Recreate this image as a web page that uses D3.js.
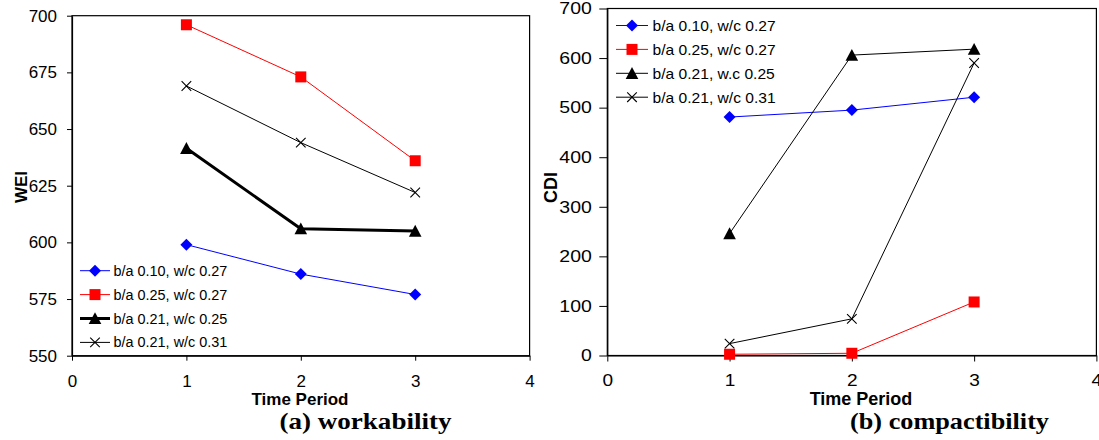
<!DOCTYPE html>
<html>
<head>
<meta charset="utf-8">
<script src="https://cdn.jsdelivr.net/npm/d3@7"></script>
<style>
  html, body { margin: 0; padding: 0; background: #fff; }
  svg { display: block; }
  text { font-family: "Liberation Sans", Arial, sans-serif; fill: #000; }
  .cap { font-family: "Liberation Serif", "Times New Roman", serif; font-weight: bold; }
</style>
</head>
<body>
<svg id="chart" width="1099" height="440"></svg>
<script>
// ---------- data ----------
const periods = [1, 2, 3];
const xTickValues = [0, 1, 2, 3, 4];
const weiTickValues = [550, 575, 600, 625, 650, 675, 700];
const cdiTickValues = [0, 100, 200, 300, 400, 500, 600, 700];

const weiSeriesNames = ["b/a 0.10, w/c 0.27", "b/a 0.25, w/c 0.27", "b/a 0.21, w/c 0.25", "b/a 0.21, w/c 0.31"];
const cdiSeriesNames = ["b/a 0.10, w/c 0.27", "b/a 0.25, w/c 0.27", "b/a 0.21, w.c 0.25", "b/a 0.21, w/c 0.31"];

const wei_ba010_wc027 = [599, 586, 577];
const wei_ba025_wc027 = [696, 673, 636];
const wei_ba021_wc025 = [641.5, 606, 605];
const wei_ba021_wc031 = [669, 644, 622];

const cdi_ba010_wc027 = [481, 495, 521];
const cdi_ba025_wc027 = [2.5, 4.5, 108];
const cdi_ba021_wc025 = [246, 606, 618];
const cdi_ba021_wc031 = [24, 74, 590];

const weiTitle = "WEI";
const cdiTitle = "CDI";
const xTitle = "Time Period";
const captionA = "(a) workability";
const captionB = "(b) compactibility";

// ---------- styles ----------
const seriesStyle = [
  { color: "#0000ff", marker: "diamond" },
  { color: "#ff0000", marker: "square" },
  { color: "#000000", marker: "triangle" },
  { color: "#000000", marker: "cross" }
];

const markerPath = {
  diamond: "M0,-6L6,0L0,6L-6,0Z",
  square: "M-5.5,-5.5H5.5V5.5H-5.5Z",
  triangle: "M0,-6.2L6.3,5.6L-6.3,5.6Z",
  cross: "M-4.8,-4.8L4.8,4.8M-4.8,4.8L4.8,-4.8"
};

const svg = d3.select("#chart");

function stretch(sel, f) {
  sel.each(function () {
    const w = this.getComputedTextLength();
    if (w > 0 && f !== 1) {
      this.setAttribute("textLength", (w * f).toFixed(2));
      this.setAttribute("lengthAdjust", "spacingAndGlyphs");
    }
  });
}

function drawMarker(g, type, color, x, y) {
  const p = g.append("path")
    .attr("d", markerPath[type])
    .attr("transform", `translate(${x},${y})`);
  if (type === "cross") {
    p.attr("fill", "none").attr("stroke", color).attr("stroke-width", 1.1);
  } else {
    p.attr("fill", color).attr("stroke", "none");
  }
}

function drawPanel(cfg) {
  const g = svg.append("g");
  const x = d3.scaleLinear().domain([0, 4]).range(cfg.xRange);
  const y = d3.scaleLinear().domain(cfg.yDomain).range(cfg.yRange);

  // frame
  g.append("rect")
    .attr("x", cfg.xRange[0]).attr("y", cfg.yRange[1])
    .attr("width", cfg.xRange[1] - cfg.xRange[0])
    .attr("height", cfg.yRange[0] - cfg.yRange[1])
    .attr("fill", "none").attr("stroke", "#000").attr("stroke-width", 1.2);

  // y axis
  const ya = g.append("g")
    .attr("transform", `translate(${cfg.xRange[0]},0)`)
    .call(d3.axisLeft(y).tickValues(cfg.yTicks).tickFormat(d3.format("d"))
      .tickSizeInner(cfg.yTickSize).tickSizeOuter(0).tickPadding(cfg.yTickPad));
  ya.select(".domain").attr("stroke", "#000").attr("stroke-width", 1.2);
  ya.selectAll(".tick line").attr("stroke", "#000");
  ya.selectAll(".tick text").attr("font-size", cfg.yFont + "px")
    .attr("font-family", "Liberation Sans, Arial, sans-serif").attr("fill", "#000");
  stretch(ya.selectAll(".tick text"), cfg.yStretch);

  // x axis
  const xa = g.append("g")
    .attr("transform", `translate(0,${cfg.yRange[0]})`)
    .call(d3.axisBottom(x).tickValues(xTickValues).tickFormat(d3.format("d"))
      .tickSizeInner(cfg.xTickSize).tickSizeOuter(0).tickPadding(cfg.xTickPad));
  xa.select(".domain").attr("stroke", "#000").attr("stroke-width", 1.2);
  xa.selectAll(".tick line").attr("stroke", "#000");
  xa.selectAll(".tick text").attr("font-size", cfg.xFont + "px")
    .attr("font-family", "Liberation Sans, Arial, sans-serif").attr("fill", "#000");
  stretch(xa.selectAll(".tick text"), cfg.xStretch);

  // series
  cfg.series.forEach((vals, i) => {
    const st = seriesStyle[i];
    const w = cfg.lineWidths[i];
    const line = d3.line().x((d, j) => x(periods[j])).y(d => y(d));
    g.append("path").datum(vals)
      .attr("d", line)
      .attr("fill", "none").attr("stroke", st.color).attr("stroke-width", w)
      .attr("stroke-linejoin", "round");
    vals.forEach((v, j) => drawMarker(g, st.marker, st.color, x(periods[j]), y(v)));
  });

  // legend
  cfg.names.forEach((name, i) => {
    const st = seriesStyle[i];
    const ly = cfg.legend.y0 + i * cfg.legend.dy;
    g.append("line")
      .attr("x1", cfg.legend.x1).attr("x2", cfg.legend.x2)
      .attr("y1", ly).attr("y2", ly)
      .attr("stroke", st.color).attr("stroke-width", cfg.lineWidths[i]);
    drawMarker(g, st.marker, st.color, (cfg.legend.x1 + cfg.legend.x2) / 2, ly);
    const t = g.append("text")
      .attr("x", cfg.legend.tx).attr("y", ly).attr("dy", "0.36em")
      .attr("font-size", cfg.legend.font + "px")
      .text(name);
    stretch(t, cfg.legend.stretch);
  });

  // axis titles
  g.append("text")
    .attr("x", cfg.xTitle.x).attr("y", cfg.xTitle.y)
    .attr("text-anchor", "middle").attr("font-weight", "bold")
    .attr("font-size", cfg.xTitle.font + "px")
    .text(xTitle);

  g.append("text")
    .attr("transform", `translate(${cfg.yTitle.x},${cfg.yTitle.y}) rotate(-90)`)
    .attr("text-anchor", "middle").attr("font-weight", "bold")
    .attr("font-size", cfg.yTitle.font + "px")
    .text(cfg.yTitle.text);

  // caption
  const c = g.append("text")
    .attr("class", "cap")
    .attr("x", cfg.caption.x).attr("y", cfg.caption.y)
    .attr("font-size", cfg.caption.font + "px")
    .text(cfg.caption.text);
  c.attr("textLength", cfg.caption.len).attr("lengthAdjust", "spacingAndGlyphs");
}

// panel (a)
drawPanel({
  xRange: [72, 529.6], yRange: [355.7, 15.7], yDomain: [550, 700], yTicks: weiTickValues,
  yTickSize: 5, yTickPad: 10, yFont: 17, yStretch: 1.0,
  xTickSize: 5, xTickPad: 14, xFont: 17, xStretch: 1.0,
  series: [wei_ba010_wc027, wei_ba025_wc027, wei_ba021_wc025, wei_ba021_wc031],
  lineWidths: [1, 1, 3, 1],
  names: weiSeriesNames,
  legend: { x1: 80, x2: 110, tx: 113.5, y0: 270.7, dy: 23.9, font: 14, stretch: 1.03 },
  xTitle: { x: 300, y: 405, font: 17 },
  yTitle: { x: 27, y: 187, font: 17, text: weiTitle },
  caption: { x: 279.5, y: 428.5, font: 23, text: captionA, len: 172 }
});

// panel (b)
drawPanel({
  xRange: [607.3, 1096.4], yRange: [355.5, 8.5], yDomain: [0, 700], yTicks: cdiTickValues,
  yTickSize: 8, yTickPad: 7.5, yFont: 16.5, yStretch: 1.18,
  xTickSize: 6, xTickPad: 12.5, xFont: 17, xStretch: 1.12,
  series: [cdi_ba010_wc027, cdi_ba025_wc027, cdi_ba021_wc025, cdi_ba021_wc031],
  lineWidths: [1, 1, 1, 1],
  names: cdiSeriesNames,
  legend: { x1: 616, x2: 648, tx: 652.5, y0: 25.5, dy: 23.9, font: 15, stretch: 1.04 },
  xTitle: { x: 861, y: 405, font: 18 },
  yTitle: { x: 556.5, y: 187.5, font: 18, text: cdiTitle },
  caption: { x: 850, y: 428.5, font: 23, text: captionB, len: 199 }
});
</script>
</body>
</html>
